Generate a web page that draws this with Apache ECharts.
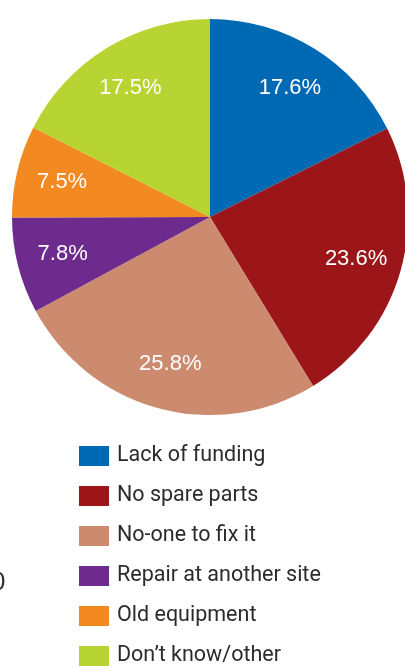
<!DOCTYPE html>
<html>
<head>
<meta charset="utf-8">
<script src="https://cdn.jsdelivr.net/npm/echarts@6/dist/echarts.min.js"></script>
<style>
html,body{margin:0;padding:0;background:#fff;}
#c{width:405px;height:668px;}
</style>
</head>
<body>
<div id="c"></div>
<script>
const categories = ['Lack of funding','No spare parts','No-one to fix it','Repair at another site','Old equipment','Don\u2019t know/other'];
const values = [17.6, 23.6, 25.8, 7.8, 7.5, 17.5];
const colors = ['#0069B4','#9B1519','#CC8A6E','#6E2B8E','#F38A21','#B8D432'];

const data = categories.map((name, i) => ({name, value: values[i], itemStyle: {color: colors[i]}}));

const chart = echarts.init(document.getElementById('c'), null, {renderer: 'canvas'});
chart.setOption({
  animation: false,
  legend: {
    orient: 'vertical',
    left: 79,
    top: 445,
    width: 320,
    height: 300,
    padding: 0,
    itemWidth: 30,
    itemHeight: 20,
    itemGap: 18,
    icon: 'rect',
    selectedMode: false,
    data: categories,
    textStyle: {
      fontFamily: 'Roboto, sans-serif',
      fontSize: 21.5,
      color: '#2b2b2b',
      padding: [0, 0, 0, 3]
    }
  },
  series: [
    {
      type: 'pie',
      center: [210, 217],
      radius: [0, 198],
      startAngle: 90,
      clockwise: true,
      silent: true,
      label: {show: false},
      labelLine: {show: false},
      itemStyle: {borderWidth: 0},
      data: data
    },
    {
      type: 'pie',
      center: [210, 217],
      radius: [100, 198],
      startAngle: 90,
      clockwise: true,
      silent: true,
      itemStyle: {color: 'rgba(0,0,0,0)', borderWidth: 0},
      label: {
        show: true,
        position: 'inside',
        formatter: p => p.value.toFixed(1) + '%',
        color: '#ffffff',
        fontFamily: 'Liberation Sans, sans-serif',
        fontSize: 22
      },
      labelLine: {show: false},
      data: categories.map((name, i) => ({name, value: values[i]}))
    }
  ],
  graphic: [
    {type: 'text', left: -9, top: 570, style: {text: '0', font: '26px Liberation Sans, sans-serif', fill: '#333'}}
  ]
});
</script>
</body>
</html>
